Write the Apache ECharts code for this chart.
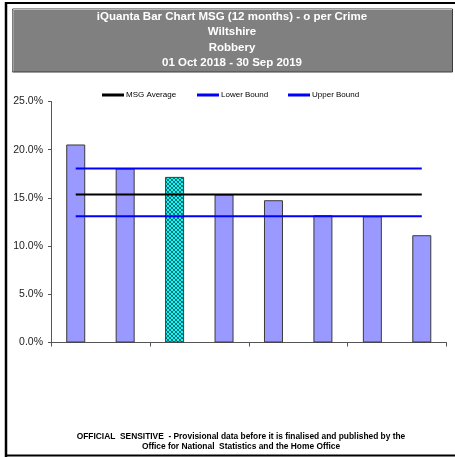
<!DOCTYPE html>
<html>
<head>
<meta charset="utf-8">
<script src="https://cdn.jsdelivr.net/npm/echarts@6/dist/echarts.min.js"></script>
<style>
  html, body { margin: 0; padding: 0; background: #fff; }
  #chart { width: 455px; height: 457px; }
</style>
</head>
<body>
<div id="chart"></div>
<script>
// Forces in the most similar group, ordered by rate (the highlighted one is Wiltshire)
const forces = ['F1', 'F2', 'Wiltshire', 'F4', 'F5', 'F6', 'F7', 'F8'];
const rates = [20.54, 18.05, 17.18, 15.35, 14.76, 13.2, 13.1, 11.13];
const highlightIndex = 2;
const msgAverage = 15.35;
const lowerBound = 13.1;
const upperBound = 18.05;
const yTicks = [0, 5, 10, 15, 20, 25];

const titleLines = [
  'iQuanta Bar Chart MSG (12 months) - o per Crime',
  'Wiltshire',
  'Robbery',
  '01 Oct 2018 - 30 Sep 2019'
];
const footerLines = [
  'OFFICIAL  SENSITIVE  - Provisional data before it is finalised and published by the',
  'Office for National  Statistics and the Home Office'
];

// Cross-hatch fill for the highlighted force
function hatchPattern() {
  const c = document.createElement('canvas');
  c.width = 4; c.height = 4;
  const g = c.getContext('2d');
  g.fillStyle = '#00ffff';
  g.fillRect(0, 0, 4, 4);
  g.strokeStyle = '#1f5f5f';
  g.lineWidth = 0.9;
  g.beginPath();
  g.moveTo(0, 0); g.lineTo(4, 4);
  g.moveTo(4, 0); g.lineTo(0, 4);
  g.stroke();
  return c;
}

const barData = rates.map((v, i) => i === highlightIndex
  ? { value: v, itemStyle: { color: { image: hatchPattern(), repeat: 'repeat' } } }
  : v);

const chart = echarts.init(document.getElementById('chart'), null, { renderer: 'canvas' });
const font = 'Liberation Sans, Arial, sans-serif';

function flat(v) { return forces.map(() => v); }

const legendBase = {
  top: 91,
  itemWidth: 22,
  itemHeight: 3,
  itemGap: 2,
  icon: 'rect',
  textStyle: { fontFamily: font, fontSize: 8, color: '#000', padding: [0, 0, 0, -3] },
  padding: 0
};

chart.setOption({
  animation: false,
  backgroundColor: '#fff',
  textStyle: { fontFamily: font },
  title: {
    text: titleLines.join('\n'),
    left: 232,
    top: 9,
    padding: 0,
    textAlign: 'center',
    textStyle: { color: '#fff', fontSize: 11.5, fontWeight: 'bold', lineHeight: 15.5, fontFamily: font }
  },
  legend: [
    Object.assign({}, legendBase, { left: 102, data: ['MSG Average'] }),
    Object.assign({}, legendBase, { left: 197, data: ['Lower Bound'] }),
    Object.assign({}, legendBase, { left: 288, data: ['Upper Bound'] })
  ],
  grid: { left: 51, right: 8.5, top: 101.5, bottom: 114.5, containLabel: false },
  xAxis: {
    type: 'category',
    data: forces,
    boundaryGap: true,
    axisLine: { lineStyle: { color: '#555', width: 1 } },
    axisTick: { show: true, length: 4, lineStyle: { color: '#555' } },
    axisLabel: { show: false },
    splitLine: { show: false }
  },
  yAxis: {
    type: 'value',
    min: yTicks[0],
    max: yTicks[yTicks.length - 1],
    interval: 5,
    axisLine: { show: true, lineStyle: { color: '#555', width: 1 } },
    axisTick: { show: true, length: 3, lineStyle: { color: '#555' } },
    axisLabel: {
      margin: 8,
      fontSize: 10.5,
      color: '#222',
      fontFamily: font,
      formatter: v => v.toFixed(1) + '%'
    },
    splitLine: { show: false }
  },
  series: [
    {
      name: 'Rate',
      type: 'bar',
      data: barData,
      barWidth: 19,
      itemStyle: { color: '#9999ff', borderColor: '#3a3a3a', borderWidth: 1 },
      z: 2
    },
    {
      name: 'MSG Average',
      type: 'line',
      data: flat(msgAverage),
      symbol: 'none',
      lineStyle: { color: '#000', width: 2 },
      itemStyle: { color: '#000' },
      z: 3
    },
    {
      name: 'Lower Bound',
      type: 'line',
      data: flat(lowerBound),
      symbol: 'none',
      lineStyle: { color: '#0000ff', width: 2 },
      itemStyle: { color: '#0000ff' },
      z: 3
    },
    {
      name: 'Upper Bound',
      type: 'line',
      data: flat(upperBound),
      symbol: 'none',
      lineStyle: { color: '#0000ff', width: 2 },
      itemStyle: { color: '#0000ff' },
      z: 3
    }
  ],
  graphic: [
    // page frame
    { type: 'line', shape: { x1: 6, y1: 2, x2: 6, y2: 457 }, style: { stroke: '#000', lineWidth: 2.5 }, z: 0 },
    { type: 'line', shape: { x1: 5, y1: 3, x2: 455, y2: 3 }, style: { stroke: '#000', lineWidth: 2 }, z: 0 },
    { type: 'line', shape: { x1: 5, y1: 455.5, x2: 455, y2: 455.5 }, style: { stroke: '#000', lineWidth: 2 }, z: 0 },
    // title panel
    { type: 'rect', shape: { x: 12.5, y: 9, width: 440, height: 63 },
      style: { fill: '#808080', stroke: '#3c3c3c', lineWidth: 1 }, z: -1 },
    { type: 'line', shape: { x1: 13, y1: 9.5, x2: 452, y2: 9.5 }, style: { stroke: '#bdbdbd', lineWidth: 1 }, z: 0 },
    { type: 'line', shape: { x1: 13, y1: 9.5, x2: 13, y2: 71.5 }, style: { stroke: '#bdbdbd', lineWidth: 1 }, z: 0 },
    // footer
    {
      type: 'text',
      x: 241,
      y: 432,
      style: {
        text: footerLines.join('\n'),
        font: 'bold 8.4px ' + font,
        fill: '#000',
        align: 'center',
        verticalAlign: 'top',
        lineHeight: 10
      }
    }
  ]
});
</script>
</body>
</html>
